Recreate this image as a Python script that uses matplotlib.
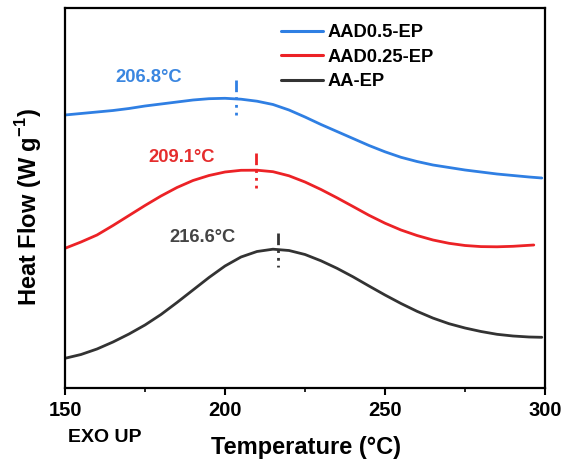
import numpy as np
from matplotlib import pyplot as plt

plt.rcParams['font.family'] = ['Liberation Sans', 'DejaVu Sans']
plt.rcParams['font.weight'] = 'bold'
plt.rcParams['mathtext.fontset'] = 'custom'
plt.rcParams['mathtext.rm'] = 'Liberation Sans:bold'
plt.rcParams['mathtext.bf'] = 'Liberation Sans:bold'

# DSC curves (arbitrary heat flow units, every 5 degC)
t_blue = [150, 155, 160, 165, 170, 175, 180, 185, 190, 195, 200, 205, 210,
          215, 220, 225, 230, 235, 240, 245, 250, 255, 260, 265, 270, 275,
          280, 285, 290, 295, 299]
hf_blue = [2.73, 2.745, 2.76, 2.775, 2.795, 2.82, 2.84, 2.86, 2.88, 2.893,
           2.897, 2.888, 2.868, 2.835, 2.78, 2.71, 2.635, 2.565, 2.495, 2.425,
           2.362, 2.307, 2.265, 2.23, 2.205, 2.18, 2.16, 2.14, 2.125, 2.11, 2.10]

t_red = [150, 155, 160, 165, 170, 175, 180, 185, 190, 195, 200, 205, 210,
         215, 220, 225, 230, 235, 240, 245, 250, 255, 260, 265, 270, 275,
         280, 285, 290, 296.5]
hf_red = [1.397, 1.46, 1.53, 1.625, 1.725, 1.825, 1.92, 2.005, 2.075, 2.125,
          2.16, 2.177, 2.178, 2.163, 2.122, 2.06, 1.985, 1.902, 1.815, 1.727,
          1.648, 1.58, 1.525, 1.48, 1.447, 1.425, 1.414, 1.412, 1.417, 1.43]

t_black = [150, 155, 160, 165, 170, 175, 180, 185, 190, 195, 200, 205, 210,
           215, 220, 225, 230, 235, 240, 245, 250, 255, 260, 265, 270, 275,
           280, 285, 290, 295, 299]
hf_black = [0.297, 0.335, 0.39, 0.46, 0.54, 0.63, 0.735, 0.855, 0.98, 1.105,
            1.22, 1.31, 1.365, 1.388, 1.375, 1.335, 1.272, 1.197, 1.112, 1.02,
            0.93, 0.845, 0.767, 0.699, 0.643, 0.6, 0.565, 0.537, 0.52, 0.51,
            0.507]

names = ['AAD0.5-EP', 'AAD0.25-EP', 'AA-EP']
colors = ['#2f7fe3', '#ec2226', '#333333']
text_colors = ['#3a86e0', '#e52d2d', '#444444']

# peak markers: x position, y range (top, bottom); label text and position
peak_x = [203.4, 209.7, 216.7]
peak_y = [(3.08, 2.71), (2.353, 1.997), (1.55, 1.21)]
peak_text = ['206.8°C', '209.1°C', '216.6°C']
label_pos = [(176.25, 3.105), (186.4, 2.31), (193.1, 1.51)]

fig = plt.figure(figsize=(5.63, 4.62), dpi=100)
ax = fig.add_axes([65/563, 1-388/462, 480/563, 380/462])

curves = [(t_blue, hf_blue), (t_red, hf_red), (t_black, hf_black)]
for i in range(3):
    t, hf = curves[i]
    ax.plot(t, hf, color=colors[i], linewidth=2, label=names[i],
            solid_joinstyle='round', solid_capstyle='round')
    ax.plot([peak_x[i], peak_x[i]], peak_y[i], color=colors[i], linewidth=2,
            linestyle=(0, (4.2, 1.8, 1, 1.8, 1, 1.8, 1, 1.8)))
    ax.text(label_pos[i][0], label_pos[i][1], peak_text[i], color=text_colors[i],
            fontsize=13.2, fontweight='bold', ha='center', va='center')

ax.set_xlim(150, 300)
ax.set_ylim(0, 3.8)
ax.set_xticks([150, 200, 250, 300])
ax.set_xticks([175, 225, 275], minor=True)
ax.set_yticks([])
ax.tick_params(axis='x', which='major', direction='out', length=5, width=1.5,
               labelsize=14.5, pad=4)
ax.tick_params(axis='x', which='minor', direction='out', length=3, width=1.2)
for lbl in ax.get_xticklabels():
    lbl.set_fontweight('bold')
for s in ax.spines.values():
    s.set_linewidth(1.6)

ax.set_xlabel('Temperature (°C)', fontsize=17, fontweight='bold')
ax.xaxis.set_label_coords(0.502, -0.126)
ax.set_ylabel(r'Heat Flow (W g$^{-1}$)', fontsize=17, fontweight='bold')
ax.yaxis.set_label_coords(-0.075, 0.476)
ax.yaxis.label.set_va('center')

fig.text(68/563, 1-437/462, 'EXO UP', fontsize=14, fontweight='bold',
         ha='left', va='center')

leg = ax.legend(loc='upper left', bbox_to_anchor=((281-65)/480, (388-24)/380),
                frameon=False, fontsize=13.2, handlelength=2.3,
                handletextpad=0.25, labelspacing=0.42, borderpad=0,
                borderaxespad=0)
for txt in leg.get_texts():
    txt.set_fontweight('bold')
for line in leg.get_lines():
    line.set_linewidth(2.2)

plt.savefig('out.png', dpi=100)
